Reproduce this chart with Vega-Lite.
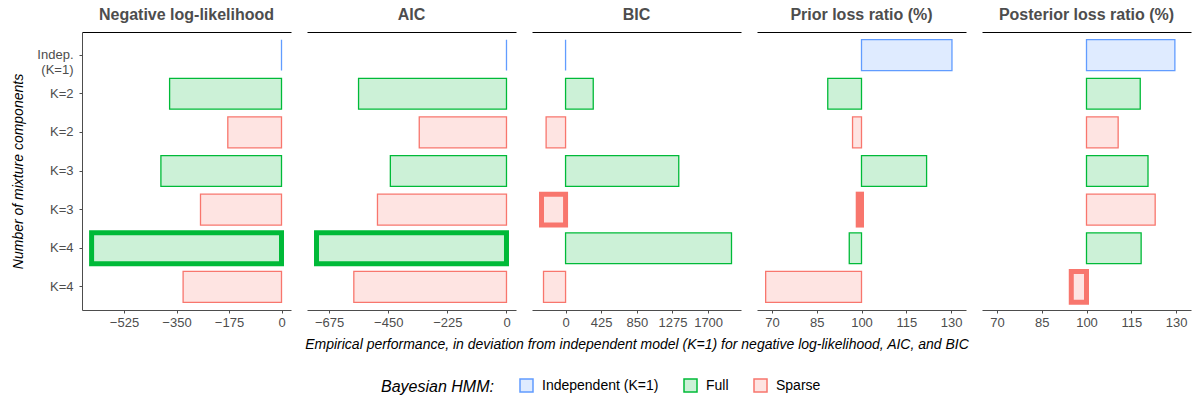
{
  "$schema": "https://vega.github.io/schema/vega-lite/v6.json",
  "background": "white",
  "padding": {"left": 11, "top": 7, "right": 6, "bottom": 5},
  "data": {"values": [
    {"metric": "NLL", "model": "Indep. (K=1)", "type": "Independent (K=1)", "value": 0, "best": false},
    {"metric": "NLL", "model": "K=2 Full", "type": "Full", "value": -373, "best": false},
    {"metric": "NLL", "model": "K=2 Sparse", "type": "Sparse", "value": -179, "best": false},
    {"metric": "NLL", "model": "K=3 Full", "type": "Full", "value": -402, "best": false},
    {"metric": "NLL", "model": "K=3 Sparse", "type": "Sparse", "value": -270, "best": false},
    {"metric": "NLL", "model": "K=4 Full", "type": "Full", "value": -633, "best": true},
    {"metric": "NLL", "model": "K=4 Sparse", "type": "Sparse", "value": -328, "best": false},
    {"metric": "AIC", "model": "Indep. (K=1)", "type": "Independent (K=1)", "value": 0, "best": false},
    {"metric": "AIC", "model": "K=2 Full", "type": "Full", "value": -563, "best": false},
    {"metric": "AIC", "model": "K=2 Sparse", "type": "Sparse", "value": -332, "best": false},
    {"metric": "AIC", "model": "K=3 Full", "type": "Full", "value": -442, "best": false},
    {"metric": "AIC", "model": "K=3 Sparse", "type": "Sparse", "value": -491, "best": false},
    {"metric": "AIC", "model": "K=4 Full", "type": "Full", "value": -723, "best": true},
    {"metric": "AIC", "model": "K=4 Sparse", "type": "Sparse", "value": -581, "best": false},
    {"metric": "BIC", "model": "Indep. (K=1)", "type": "Independent (K=1)", "value": 0, "best": false},
    {"metric": "BIC", "model": "K=2 Full", "type": "Full", "value": 330, "best": false},
    {"metric": "BIC", "model": "K=2 Sparse", "type": "Sparse", "value": -232, "best": false},
    {"metric": "BIC", "model": "K=3 Full", "type": "Full", "value": 1350, "best": false},
    {"metric": "BIC", "model": "K=3 Sparse", "type": "Sparse", "value": -287, "best": true},
    {"metric": "BIC", "model": "K=4 Full", "type": "Full", "value": 1979, "best": false},
    {"metric": "BIC", "model": "K=4 Sparse", "type": "Sparse", "value": -263, "best": false},
    {"metric": "Prior", "model": "Indep. (K=1)", "type": "Independent (K=1)", "value": 130.3, "best": false},
    {"metric": "Prior", "model": "K=2 Full", "type": "Full", "value": 88.7, "best": false},
    {"metric": "Prior", "model": "K=2 Sparse", "type": "Sparse", "value": 97.0, "best": false},
    {"metric": "Prior", "model": "K=3 Full", "type": "Full", "value": 121.8, "best": false},
    {"metric": "Prior", "model": "K=3 Sparse", "type": "Sparse", "value": 98.9, "best": true},
    {"metric": "Prior", "model": "K=4 Full", "type": "Full", "value": 95.9, "best": false},
    {"metric": "Prior", "model": "K=4 Sparse", "type": "Sparse", "value": 67.9, "best": false},
    {"metric": "Posterior", "model": "Indep. (K=1)", "type": "Independent (K=1)", "value": 129.6, "best": false},
    {"metric": "Posterior", "model": "K=2 Full", "type": "Full", "value": 118.0, "best": false},
    {"metric": "Posterior", "model": "K=2 Sparse", "type": "Sparse", "value": 110.6, "best": false},
    {"metric": "Posterior", "model": "K=3 Full", "type": "Full", "value": 120.6, "best": false},
    {"metric": "Posterior", "model": "K=3 Sparse", "type": "Sparse", "value": 123.0, "best": false},
    {"metric": "Posterior", "model": "K=4 Full", "type": "Full", "value": 118.3, "best": false},
    {"metric": "Posterior", "model": "K=4 Sparse", "type": "Sparse", "value": 94.9, "best": true}
  ]},
  "spacing": 16,
  "bounds": "flush",
  "resolve": {"scale": {"x": "independent", "y": "independent"}},
  "hconcat": [
    {
      "width": 209, "height": 278,
      "title": "Negative log-likelihood",
      "transform": [{"filter": "datum.metric == 'NLL'"}],
      "resolve": {"axis": {"x": "independent"}},
      "layer": [
        {"mark": {"type": "rule", "opacity": 0},
         "encoding": {"x": {"field": "value", "type": "quantitative", "scale": {"domain": [-665, 31.65], "nice": false, "zero": false},
           "axis": {"orient": "top", "labels": false, "ticks": false, "title": null, "domainColor": "black", "grid": false}}}},
        {"mark": {"type": "bar"},
         "encoding": {
           "x": {"field": "value", "type": "quantitative", "scale": {"domain": [-665, 31.65], "nice": false, "zero": false},
             "axis": {"values": [-525, -350, -175, 0], "title": null, "format": "d"}},
           "x2": {"datum": 0},
           "y": {"field": "model", "type": "nominal", "sort": ["Indep. (K=1)", "K=2 Full", "K=2 Sparse", "K=3 Full", "K=3 Sparse", "K=4 Full", "K=4 Sparse"],
             "scale": {"paddingInner": 0.2, "paddingOuter": 0.2},
             "axis": {"title": "Number of mixture components", "labelExpr": "datum.value == 'Indep. (K=1)' ? ['Indep.', '(K=1)'] : slice(datum.value, 0, 3)",
               "domainColor": "#4d4d4d", "tickColor": "#4d4d4d", "tickSize": 3, "labelPadding": 6, "labelFontSize": 13, "labelColor": "#4d4d4d",
               "titleFontSize": 14, "titleFontStyle": "italic", "titleFontWeight": "normal", "titleColor": "black", "titlePadding": 11}},
           "fill": {"field": "type", "type": "nominal", "title": "Bayesian HMM:", "scale": {"domain": ["Independent (K=1)", "Full", "Sparse"], "range": ["#dfebff", "#ccf1d7", "#fee4e2"]}},
           "stroke": {"field": "type", "type": "nominal", "title": "Bayesian HMM:", "scale": {"domain": ["Independent (K=1)", "Full", "Sparse"], "range": ["#619CFF", "#00BA38", "#F8766D"]}},
           "strokeWidth": {"condition": {"test": "datum.best", "value": 5}, "value": 1.3}
         }}
      ]
    },
    {
      "width": 209, "height": 278,
      "title": "AIC",
      "transform": [{"filter": "datum.metric == 'AIC'"}],
      "resolve": {"axis": {"x": "independent"}},
      "layer": [
        {"mark": {"type": "rule", "opacity": 0},
         "encoding": {"x": {"field": "value", "type": "quantitative", "scale": {"domain": [-759.2, 36.2], "nice": false, "zero": false},
           "axis": {"orient": "top", "labels": false, "ticks": false, "title": null, "domainColor": "black", "grid": false}}}},
        {"mark": {"type": "bar"},
         "encoding": {
           "x": {"field": "value", "type": "quantitative", "scale": {"domain": [-759.2, 36.2], "nice": false, "zero": false},
             "axis": {"values": [-675, -450, -225, 0], "title": null, "format": "d"}},
           "x2": {"datum": 0},
           "y": {"field": "model", "type": "nominal", "sort": ["Indep. (K=1)", "K=2 Full", "K=2 Sparse", "K=3 Full", "K=3 Sparse", "K=4 Full", "K=4 Sparse"],
             "scale": {"paddingInner": 0.2, "paddingOuter": 0.2}, "axis": null},
           "fill": {"field": "type", "type": "nominal", "title": "Bayesian HMM:", "scale": {"domain": ["Independent (K=1)", "Full", "Sparse"], "range": ["#dfebff", "#ccf1d7", "#fee4e2"]}},
           "stroke": {"field": "type", "type": "nominal", "title": "Bayesian HMM:", "scale": {"domain": ["Independent (K=1)", "Full", "Sparse"], "range": ["#619CFF", "#00BA38", "#F8766D"]}},
           "strokeWidth": {"condition": {"test": "datum.best", "value": 5}, "value": 1.3}
         }}
      ]
    },
    {
      "width": 209, "height": 278,
      "title": "BIC",
      "transform": [{"filter": "datum.metric == 'BIC'"}],
      "resolve": {"axis": {"x": "independent"}},
      "layer": [
        {"mark": {"type": "rule", "opacity": 0},
         "encoding": {"x": {"field": "value", "type": "quantitative", "scale": {"domain": [-400.3, 2092.3], "nice": false, "zero": false},
           "axis": {"orient": "top", "labels": false, "ticks": false, "title": null, "domainColor": "black", "grid": false}}}},
        {"mark": {"type": "bar"},
         "encoding": {
           "x": {"field": "value", "type": "quantitative", "scale": {"domain": [-400.3, 2092.3], "nice": false, "zero": false},
             "axis": {"values": [0, 425, 850, 1275, 1700], "format": "d", "title": "Empirical performance, in deviation from independent model (K=1) for negative log-likelihood, AIC, and BIC",
               "titleFontSize": 14, "titleFontStyle": "italic", "titleFontWeight": "normal", "titleColor": "black", "titlePadding": 8}},
           "x2": {"datum": 0},
           "y": {"field": "model", "type": "nominal", "sort": ["Indep. (K=1)", "K=2 Full", "K=2 Sparse", "K=3 Full", "K=3 Sparse", "K=4 Full", "K=4 Sparse"],
             "scale": {"paddingInner": 0.2, "paddingOuter": 0.2}, "axis": null},
           "fill": {"field": "type", "type": "nominal", "title": "Bayesian HMM:", "scale": {"domain": ["Independent (K=1)", "Full", "Sparse"], "range": ["#dfebff", "#ccf1d7", "#fee4e2"]}},
           "stroke": {"field": "type", "type": "nominal", "title": "Bayesian HMM:", "scale": {"domain": ["Independent (K=1)", "Full", "Sparse"], "range": ["#619CFF", "#00BA38", "#F8766D"]}},
           "strokeWidth": {"condition": {"test": "datum.best", "value": 5}, "value": 1.3}
         }}
      ]
    },
    {
      "width": 209, "height": 278,
      "title": "Prior loss ratio (%)",
      "transform": [{"filter": "datum.metric == 'Prior'"}],
      "resolve": {"axis": {"x": "independent"}},
      "layer": [
        {"mark": {"type": "rule", "opacity": 0},
         "encoding": {"x": {"field": "value", "type": "quantitative", "scale": {"domain": [65, 135], "nice": false, "zero": false},
           "axis": {"orient": "top", "labels": false, "ticks": false, "title": null, "domainColor": "black", "grid": false}}}},
        {"mark": {"type": "bar"},
         "encoding": {
           "x": {"field": "value", "type": "quantitative", "scale": {"domain": [65, 135], "nice": false, "zero": false},
             "axis": {"values": [70, 85, 100, 115, 130], "title": null, "format": "d"}},
           "x2": {"datum": 100},
           "y": {"field": "model", "type": "nominal", "sort": ["Indep. (K=1)", "K=2 Full", "K=2 Sparse", "K=3 Full", "K=3 Sparse", "K=4 Full", "K=4 Sparse"],
             "scale": {"paddingInner": 0.2, "paddingOuter": 0.2}, "axis": null},
           "fill": {"field": "type", "type": "nominal", "title": "Bayesian HMM:", "scale": {"domain": ["Independent (K=1)", "Full", "Sparse"], "range": ["#dfebff", "#ccf1d7", "#fee4e2"]}},
           "stroke": {"field": "type", "type": "nominal", "title": "Bayesian HMM:", "scale": {"domain": ["Independent (K=1)", "Full", "Sparse"], "range": ["#619CFF", "#00BA38", "#F8766D"]}},
           "strokeWidth": {"condition": {"test": "datum.best", "value": 5}, "value": 1.3}
         }}
      ]
    },
    {
      "width": 209, "height": 278,
      "title": "Posterior loss ratio (%)",
      "transform": [{"filter": "datum.metric == 'Posterior'"}],
      "resolve": {"axis": {"x": "independent"}},
      "layer": [
        {"mark": {"type": "rule", "opacity": 0},
         "encoding": {"x": {"field": "value", "type": "quantitative", "scale": {"domain": [65, 135], "nice": false, "zero": false},
           "axis": {"orient": "top", "labels": false, "ticks": false, "title": null, "domainColor": "black", "grid": false}}}},
        {"mark": {"type": "bar"},
         "encoding": {
           "x": {"field": "value", "type": "quantitative", "scale": {"domain": [65, 135], "nice": false, "zero": false},
             "axis": {"values": [70, 85, 100, 115, 130], "title": null, "format": "d"}},
           "x2": {"datum": 100},
           "y": {"field": "model", "type": "nominal", "sort": ["Indep. (K=1)", "K=2 Full", "K=2 Sparse", "K=3 Full", "K=3 Sparse", "K=4 Full", "K=4 Sparse"],
             "scale": {"paddingInner": 0.2, "paddingOuter": 0.2}, "axis": null},
           "fill": {"field": "type", "type": "nominal", "title": "Bayesian HMM:", "scale": {"domain": ["Independent (K=1)", "Full", "Sparse"], "range": ["#dfebff", "#ccf1d7", "#fee4e2"]}},
           "stroke": {"field": "type", "type": "nominal", "title": "Bayesian HMM:", "scale": {"domain": ["Independent (K=1)", "Full", "Sparse"], "range": ["#619CFF", "#00BA38", "#F8766D"]}},
           "strokeWidth": {"condition": {"test": "datum.best", "value": 5}, "value": 1.3}
         }}
      ]
    }
  ],
  "config": {
    "font": "Liberation Sans",
    "view": {"stroke": null},
    "title": {"fontSize": 16, "fontWeight": "bold", "color": "#4d4d4d", "anchor": "middle", "offset": 9, "font": "Liberation Sans"},
    "axis": {"grid": false, "labelFont": "Liberation Sans", "titleFont": "Liberation Sans", "labelFontSize": 13, "labelColor": "#4d4d4d", "tickColor": "#4d4d4d", "tickSize": 3, "labelPadding": 3, "domainColor": "#4d4d4d", "domainWidth": 1, "labelFlush": false, "labelOverlap": false},
    "legend": {"orient": "bottom", "direction": "horizontal", "titleOrient": "left", "symbolType": "square", "symbolSize": 169, "symbolStrokeWidth": 1.5,
      "labelFontSize": 14, "labelFont": "Liberation Sans", "labelColor": "black", "titleFontSize": 16, "titleFont": "Liberation Sans", "titleFontStyle": "italic", "titleFontWeight": "normal", "titleColor": "black",
      "titlePadding": 25, "columnPadding": 22, "labelOffset": 8, "offset": 27, "layout": {"bottom": {"anchor": "middle"}}}
  }
}
